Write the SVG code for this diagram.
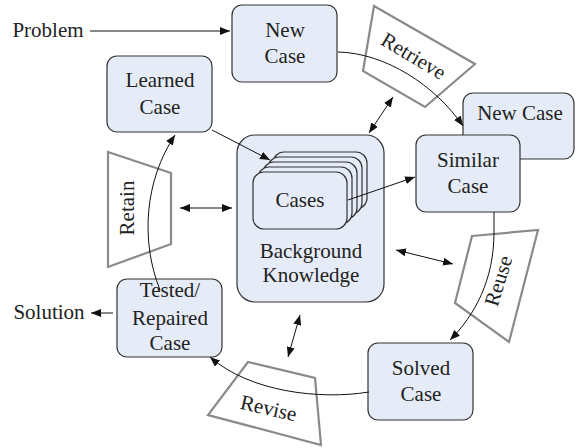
<svg xmlns="http://www.w3.org/2000/svg" width="576" height="448" viewBox="0 0 576 448" font-family="'Liberation Serif', 'Times New Roman', 'DejaVu Serif', serif">
<defs>
<marker id="ah" viewBox="0 0 10 8" refX="10" refY="4" markerWidth="10" markerHeight="8" markerUnits="userSpaceOnUse" orient="auto-start-reverse">
<path d="M0,0 L10,4 L0,8 Z" fill="#111"/>
</marker>
</defs>
<style>
.box{fill:#e6ecf7;stroke:#333;stroke-width:1.2}
.trap{fill:#fff;stroke:#8a8a8a;stroke-width:2.2}
.t{font-family:'Liberation Serif','Times New Roman','DejaVu Serif',serif;font-size:21px;fill:#222;text-anchor:middle}
.c{fill:none;stroke:#111;stroke-width:1}
</style>
<rect width="576" height="448" fill="#fff"/>

<g id="background">
<rect class="box" x="237" y="135" width="147" height="167" rx="18"/>
<text class="t" x="311" y="258">Background</text>
<text class="t" x="311" y="282">Knowledge</text>
</g>
<g id="cases">
<rect class="box" x="273" y="152" width="94" height="57" rx="11"/>
<rect class="box" x="268" y="157" width="94" height="57" rx="11"/>
<rect class="box" x="263" y="162" width="94" height="57" rx="11"/>
<rect class="box" x="258" y="167" width="94" height="57" rx="11"/>
<rect class="box" x="253" y="172" width="94" height="57" rx="11"/>
<text class="t" x="300" y="207">Cases</text>
</g>

<g id="retrieve">
<polygon class="trap" points="374,6 475,64 425,107 363,71"/>
<text class="t" transform="translate(410,62) rotate(31)">Retrieve</text>
</g>
<g id="reuse">
<polygon class="trap" points="472,236 538,230 509,342 455,303"/>
<text class="t" transform="translate(505,283) rotate(-73)">Reuse</text>
</g>
<g id="revise">
<polygon class="trap" points="248,362 315,378 321,445 208,415"/>
<text class="t" transform="translate(267,415) rotate(13)">Revise</text>
</g>
<g id="retain">
<polygon class="trap" points="108,152 171,173 171,244 108,267"/>
<text class="t" transform="translate(134,208) rotate(-90)">Retain</text>
</g>

<g id="newcase-right">
<rect class="box" x="463" y="93" width="111" height="66" rx="10"/>
<text class="t" x="520" y="120">New Case</text>
</g>
<g id="similar">
<rect class="box" x="416" y="135" width="104" height="77" rx="10"/>
<text class="t" x="468" y="167">Similar</text>
<text class="t" x="468" y="193">Case</text>
</g>
<g id="newcase">
<rect class="box" x="232" y="5" width="105" height="77" rx="10"/>
<text class="t" x="285" y="37">New</text>
<text class="t" x="285" y="63">Case</text>
</g>
<g id="learned">
<rect class="box" x="107" y="56" width="105" height="76" rx="10"/>
<text class="t" x="160" y="87">Learned</text>
<text class="t" x="160" y="114">Case</text>
</g>
<g id="tested">
<rect class="box" x="117" y="279" width="105" height="78" rx="10"/>
<text class="t" x="170" y="297">Tested/</text>
<text class="t" x="170" y="325">Repaired</text>
<text class="t" x="170" y="350">Case</text>
</g>
<g id="solved">
<rect class="box" x="368" y="343" width="105" height="77" rx="10"/>
<text class="t" x="421" y="375">Solved</text>
<text class="t" x="421" y="401">Case</text>
</g>

<g id="problem"><text class="t" x="48" y="37">Problem</text></g>
<g id="solution"><text class="t" x="49" y="319">Solution</text></g>

<g id="connectors">
<line class="c" x1="90" y1="31" x2="230" y2="31" marker-end="url(#ah)"/>
<line class="c" x1="113" y1="313" x2="91" y2="313" marker-end="url(#ah)"/>
<line class="c" x1="212" y1="130" x2="270" y2="160" marker-end="url(#ah)"/>
<line class="c" x1="348" y1="200" x2="415" y2="177" marker-end="url(#ah)"/>
<line class="c" x1="369" y1="133" x2="393" y2="97" marker-start="url(#ah)" marker-end="url(#ah)"/>
<line class="c" x1="180" y1="208" x2="232" y2="208" marker-start="url(#ah)" marker-end="url(#ah)"/>
<line class="c" x1="396" y1="250" x2="453" y2="264" marker-start="url(#ah)" marker-end="url(#ah)"/>
<line class="c" x1="288" y1="357" x2="300" y2="315" marker-start="url(#ah)" marker-end="url(#ah)"/>
<path class="c" d="M338,52 C385,53 435,85 463,126" marker-end="url(#ah)"/>
<path class="c" d="M494,212 L494,232 C494,280 475,315 450,340" marker-end="url(#ah)"/>
<path class="c" d="M369,392 C320,400 250,392 210,357" marker-end="url(#ah)"/>
<path class="c" d="M160,290 C140,240 145,180 175,135" marker-end="url(#ah)"/>
</g>
</svg>
